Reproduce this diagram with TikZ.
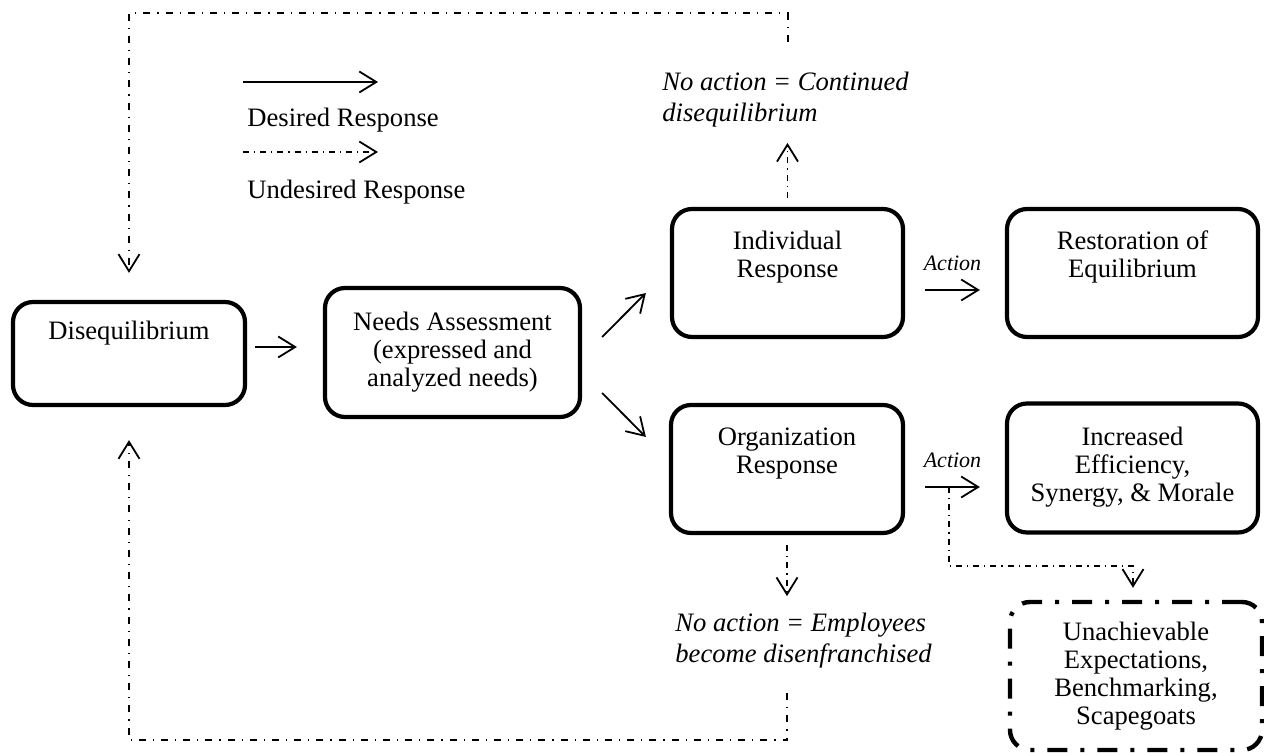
\documentclass[tikz,border=0pt]{standalone}
\usepackage{fontspec}
\setmainfont{Liberation Serif}
\usetikzlibrary{arrows.meta,calc}
\begin{document}
\begin{tikzpicture}[x=0.5pt,y=-0.5pt,
  every node/.style={font=\fontsize{13.3pt}{14pt}\selectfont, inner sep=0pt},
  box/.style={draw, line width=2.1pt, rounded corners=10pt, align=center},
  btxt/.style={anchor=north, yshift=#1, align=center, inner sep=0pt},
  ital/.style={font=\fontsize{13.3pt}{15.5pt}\selectfont\itshape, align=left},
  act/.style={font=\fontsize{11pt}{12pt}\selectfont\itshape},
  arr/.style={line width=0.9pt, -{Straight Barb[length=8.5pt,width=10.5pt,line width=0.9pt]}},
  darr/.style={line width=0.8pt, dash pattern=on 3pt off 2.5pt on 0.6pt off 2.5pt,
    -{Straight Barb[length=8.5pt,width=10.5pt,line width=0.9pt]}},
  dloop/.style={line width=1pt, dash pattern=on 3.5pt off 3.5pt on 0.6pt off 3.5pt,
    -{Straight Barb[length=8.5pt,width=10.5pt,line width=0.9pt]}},
  dbox/.style={draw, line width=2.2pt, rounded corners=10pt, align=center,
    dash pattern=on 10pt off 6.5pt on 2pt off 6.5pt}
]
\useasboundingbox (0,0) rectangle (1264,753);

% legend
\coordinate (l1a) at (243,82);
\coordinate (l1b) at (378,82);
\coordinate (l2a) at (243,152);
\coordinate (l2b) at (378,152);
\draw[arr] (l1a) -- (l1b);
\draw[darr] (l2a) -- (l2b);
\node[anchor=west] (leg1) at (247,120) {Desired Response};
\node[anchor=west] (leg2) at (247,192) {Undesired Response};

% boxes
\node[box, minimum width=116pt, minimum height=51.5pt,
  label={[btxt=-10.2pt]north:Disequilibrium}] (dis) at (129,353.5) {};
\node[box, minimum width=127.5pt, minimum height=64.5pt] (needs) at (452.5,352.5)
  {Needs Assessment\\(expressed and\\analyzed needs)};
\node[box, minimum width=115.5pt, minimum height=64pt,
  label={[btxt=-11.7pt]north:Individual\\Response}] (ind) at (787.5,273) {};
\node[box, minimum width=125.5pt, minimum height=64pt,
  label={[btxt=-11.7pt]north:Restoration of\\Equilibrium}] (rest) at (1132.5,273) {};
\node[box, minimum width=116pt, minimum height=64pt,
  label={[btxt=-12.2pt]north:Organization\\Response}] (org) at (787,469) {};
\node[box, minimum width=125.5pt, minimum height=64.5pt,
  label={[btxt=-12.5pt]north:Increased\\Efficiency,\\Synergy, \& Morale}] (inc) at (1132.5,468) {};
\node[dbox, minimum width=126pt, minimum height=74pt] (una) at (1136,676)
  {Unachievable\\Expectations,\\Benchmarking,\\Scapegoats};

% italic notes
\node[ital, anchor=west] (nac) at (662,100) {No action = Continued\\disequilibrium};
\node[ital, anchor=west] (nae) at (675,641) {No action = Employees\\become disenfranchised};

% desired flow
\draw[arr] ($(dis.east)+(8,-6.5)$) -- ($(needs.west)+(-26,-5.5)$);
\draw[arr] ($(needs.east)+(20,-15.5)$) -- ($(ind.west)+(-24,20)$);
\draw[arr] ($(needs.east)+(20,40.5)$) -- ($(org.west)+(-23,-32)$);
\draw[arr] ($(ind.east)+(20,17)$) -- node[act, above=9pt] {Action} ($(rest.west)+(-25,17)$);
\draw[arr] ($(org.east)+(20,18)$) -- coordinate[pos=0.436] (br)
  node[act, midway, above=9pt] {Action} ($(inc.west)+(-25,19)$);

% undesired flow
\draw[darr] (br) -- ++(0,79) -| ($(una.north)+(-3,-12)$);
\draw[darr] ($(ind.north)+(0,-9)$) -- ($(ind.north)+(0,-64)$);
\draw[darr] ($(org.south)+(0,10)$) -- ($(org.south)+(0,61)$);

% feedback loops back to disequilibrium
\coordinate (topL) at (129,13);
\coordinate (botL) at (129,740);
\draw[dloop] ($(ind.north)+(0,-165)$) |- (topL) -- ($(dis.north)+(0,-27)$);
\draw[dloop] ($(org.south)+(0,158)$) |- (botL) -- ($(dis.south)+(0,33)$);
\end{tikzpicture}
\end{document}
